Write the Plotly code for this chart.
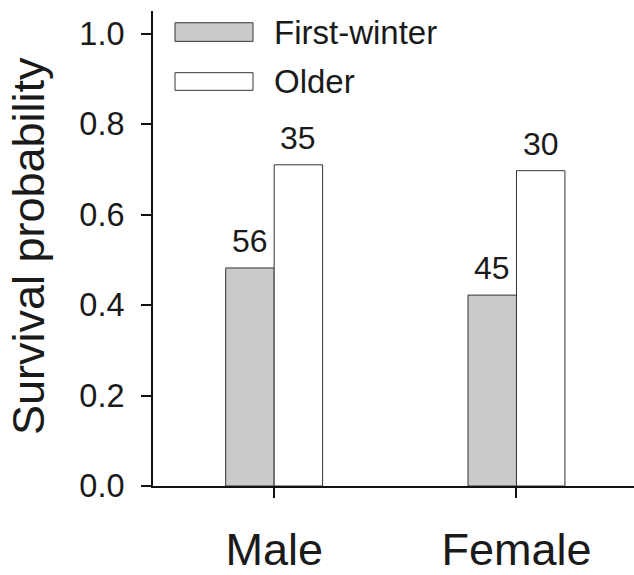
import plotly.graph_objects as go

# ---- data ----
categories = ["Male", "Female"]
first_winter = [0.482, 0.422]
older = [0.710, 0.697]
n_first_winter = [56, 45]
n_older = [35, 30]
series_names = ["First-winter", "Older"]
y_ticks = [0.0, 0.2, 0.4, 0.6, 0.8, 1.0]

# ---- layout geometry ----
W, H = 634, 575
ML, MR, MT, MB = 153, 0, 11, 79
PW = W - ML - MR
PH = H - MT - MB
XR = [-0.5, 1.485]
YR = [0, 1.05]
FONT = "Liberation Sans, Arial, Helvetica, sans-serif"
TXT = "#1a1a1a"
GREY = "#c9cacc"
EDGE = "#333333"

cat_px = PW / (XR[1] - XR[0])
bar_w = 0.2
shift = bar_w / 2 * cat_px

def px(x):
    return (x - ML) / PW

def py(y):
    return (H - MB - y) / PH

fig = go.Figure()
fig.add_trace(go.Bar(x=categories, y=first_winter, name=series_names[0],
                     marker=dict(color=GREY, line=dict(color=EDGE, width=1)),
                     showlegend=False))
fig.add_trace(go.Bar(x=categories, y=older, name=series_names[1],
                     marker=dict(color="white", line=dict(color=EDGE, width=1)),
                     showlegend=False))

annotations = []
for cat, v, n in zip(categories, first_winter, n_first_winter):
    annotations.append(dict(x=cat, y=v, xref="x", yref="y", text=str(n), showarrow=False,
                            xshift=-shift, yshift=27, yanchor="middle",
                            font=dict(size=32, color=TXT, family=FONT)))
for cat, v, n in zip(categories, older, n_older):
    annotations.append(dict(x=cat, y=v, xref="x", yref="y", text=str(n), showarrow=False,
                            xshift=shift, yshift=27, yanchor="middle",
                            font=dict(size=32, color=TXT, family=FONT)))

# y-axis title
annotations.append(dict(x=px(28), y=py(251), xref="paper", yref="paper",
                        text="Survival probability", textangle=-90, showarrow=False,
                        xanchor="center", yanchor="middle",
                        font=dict(size=45, color=TXT, family=FONT)))

# legend (drawn manually)
shapes = []
legend_rows = [(series_names[0], GREY, 23, 42), (series_names[1], "white", 74, 92)]
for name, col, y0, y1 in legend_rows:
    shapes.append(dict(type="rect", xref="paper", yref="paper",
                       x0=px(175), x1=px(253), y0=py(y1), y1=py(y0),
                       fillcolor=col, line=dict(color=EDGE, width=1)))
    annotations.append(dict(x=px(272), y=py((y0 + y1) / 2), xref="paper", yref="paper",
                            text=name, showarrow=False, xanchor="left", yanchor="middle",
                            font=dict(size=33, color=TXT, family=FONT)))

fig.update_layout(
    width=W, height=H,
    margin=dict(l=ML, r=MR, t=MT, b=MB, pad=0),
    paper_bgcolor="white", plot_bgcolor="white",
    barmode="group", bargap=0.6, bargroupgap=0,
    showlegend=False,
    font=dict(family=FONT, color=TXT),
    annotations=annotations, shapes=shapes,
    xaxis=dict(type="category", range=XR, showline=True, linecolor="#111", linewidth=2,
               ticks="outside", ticklen=10, tickwidth=1.5, tickcolor="#111",
               showgrid=False, zeroline=False, ticklabelstandoff=13,
               tickfont=dict(size=45, color=TXT, family=FONT)),
    yaxis=dict(range=YR, tickvals=y_ticks, ticktext=[f"{t:.1f}" for t in y_ticks],
               showline=True, linecolor="#111", linewidth=2,
               ticks="outside", ticklen=10, tickwidth=2, tickcolor="#111",
               showgrid=False, zeroline=False, ticklabelstandoff=10,
               tickfont=dict(size=32.5, color=TXT, family=FONT)),
)

fig.write_html("out.html")
